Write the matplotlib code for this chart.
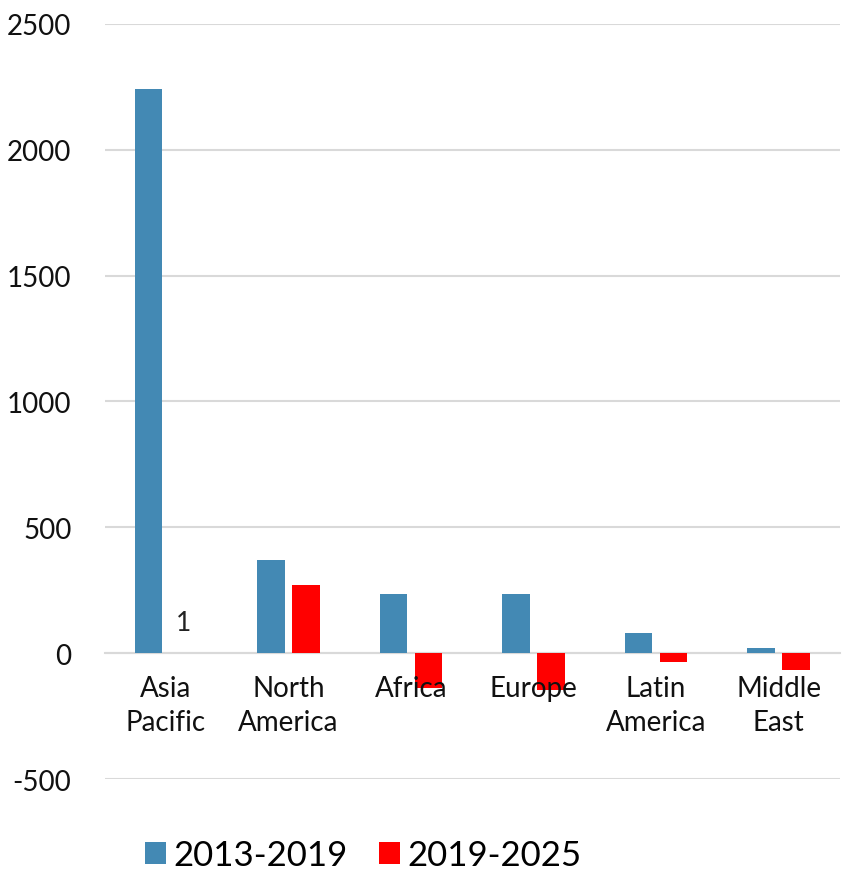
import numpy as np
import matplotlib
matplotlib.use("Agg")
from matplotlib import pyplot as plt
from matplotlib import transforms

regions = ["Asia\nPacific", "North\nAmerica", "Africa", "Europe", "Latin\nAmerica", "Middle\nEast"]
growth_2013_2019 = [2240, 372, 234, 234, 82, 21]
growth_2019_2025 = [1, 270, -140, -145, -35, -65]

blue = "#4389B4"
red = "#FF0000"
grid = "#D9D9D9"

plt.rcParams['font.family'] = ['Lato', 'DejaVu Sans']
plt.rcParams['axes.unicode_minus'] = False

fig = plt.figure(figsize=(8.45, 8.79), dpi=100)
ax = fig.add_axes([0.124, 0.1126, 0.87, 0.859])

x = np.arange(len(regions))
w = 0.225
gap = 0.03
ax.bar(x - w / 2 - gap, growth_2013_2019, width=w, color=blue, label="2013-2019", zorder=3)
ax.bar(x + w / 2 + gap, growth_2019_2025, width=w, color=red, label="2019-2025", zorder=3)

# the lone data label on the Asia Pacific red bar
ax.annotate(str(growth_2019_2025[0]), (x[0] + w / 2 + gap, growth_2019_2025[0]),
            xytext=(0, 13), textcoords="offset points", ha="center", va="bottom",
            fontsize=19, color="#222222")

ax.set_ylim(-500, 2500)
ax.set_yticks(range(-500, 2501, 500))
ax.set_xlim(-0.5, len(regions) - 0.5)
ax.yaxis.grid(True, color=grid, linewidth=1.5, zorder=0)
ax.set_axisbelow(True)

for s in ["top", "right", "left"]:
    ax.spines[s].set_visible(False)
ax.spines["bottom"].set_position(("data", 0))
ax.spines["bottom"].set_color(grid)
ax.spines["bottom"].set_linewidth(1.5)
ax.spines["bottom"].set_zorder(2)

# category labels drawn as text so they sit on top of the negative bars
ax.set_xticks(x)
ax.set_xticklabels([])
ax.tick_params(axis="x", length=0)
trans = transforms.offset_copy(ax.transData, fig=fig, x=0, y=-16, units="points")
for xi, name in zip(x, regions):
    ax.text(xi, 0, name, transform=trans, ha="center", va="top", fontsize=20,
            linespacing=1.38, color="#111111", zorder=10)

ax.tick_params(axis="y", length=0, pad=24, labelsize=20, colors="#111111")

fig.legend(loc="lower left", bbox_to_anchor=(0.135, -0.028), ncol=2, frameon=False,
           fontsize=25, handlelength=0.6, handleheight=0.6, handletextpad=0.22,
           columnspacing=0.9)

fig.savefig("out.png", dpi=100)
